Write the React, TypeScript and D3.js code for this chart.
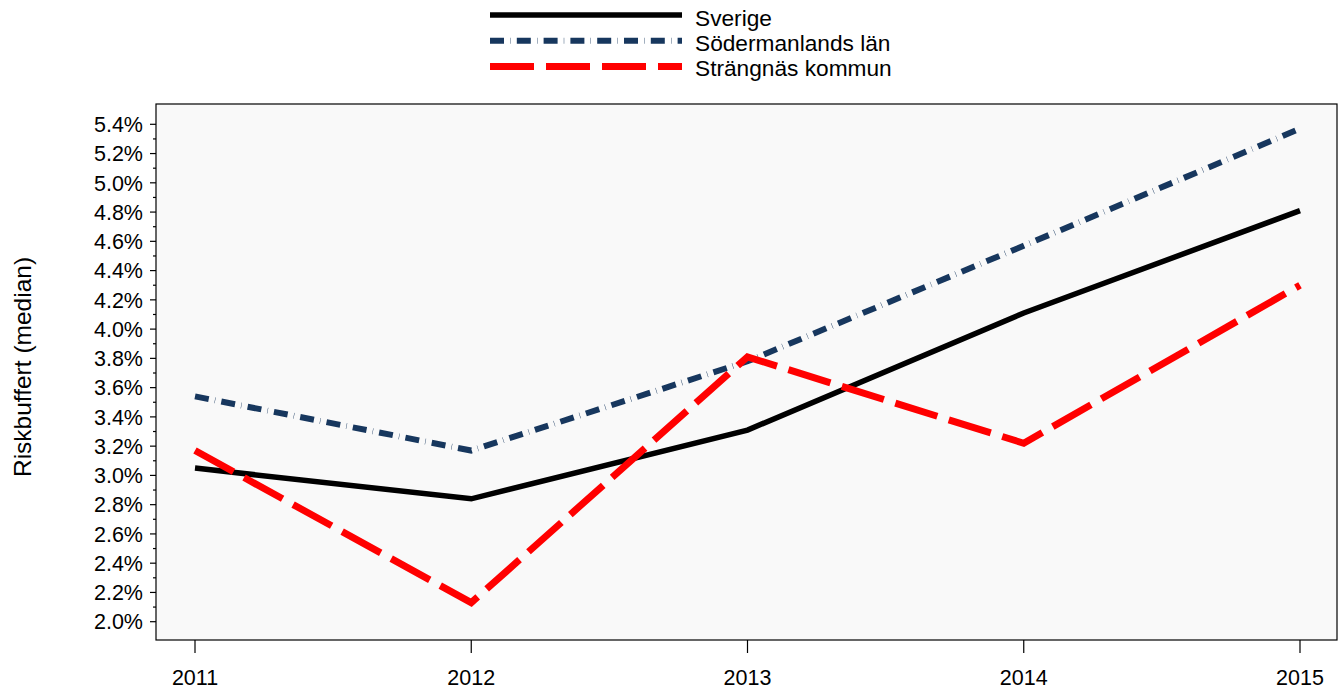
import React from "react";
import * as d3 from "d3";

const years = [2011, 2012, 2013, 2014, 2015];
const sverige = [3.05, 2.84, 3.31, 4.11, 4.81];
const sodermanland = [3.54, 3.17, 3.78, 4.57, 5.37];
const strangnas = [3.17, 2.13, 3.81, 3.22, 4.30];
const yTicks = [2.0, 2.2, 2.4, 2.6, 2.8, 3.0, 3.2, 3.4, 3.6, 3.8, 4.0, 4.2, 4.4, 4.6, 4.8, 5.0, 5.2, 5.4];
const yMinorTicks = [2.1, 2.3, 2.5, 2.7, 2.9, 3.1, 3.3, 3.5, 3.7, 3.9, 4.1, 4.3, 4.5, 4.7, 4.9, 5.1, 5.3];

const seriesList = [
  { name: "Sverige", values: sverige, color: "#000000", width: 5.5, dash: "" },
  { name: "Södermanlands län", values: sodermanland, color: "#17375e", width: 6, dash: "14 6.2 0.4 6.2" },
  { name: "Strängnäs kommun", values: strangnas, color: "#ff0000", width: 7, dash: "44 12" },
];

const W = 1340, H = 692;
const plot = { left: 156, right: 1337, top: 104, bottom: 640 };
const FONT = "'Liberation Sans', Arial, sans-serif";

export default function App() {
  const x = d3.scaleLinear().domain([2011, 2015]).range([195, 1300]);
  const y = d3.scaleLinear().domain([2.0, 5.4]).range([621.7, 124.3]);
  const line = d3.line<number>().x((_, i) => x(years[i])).y((d) => y(d));

  return (
    <svg width={W} height={H} style={{ position: "absolute", left: 0, top: 0 }} fontFamily={FONT}>
      <rect x={0} y={0} width={W} height={H} fill="#ffffff" />
      <rect x={plot.left} y={plot.top} width={plot.right - plot.left} height={plot.bottom - plot.top} fill="#f9f9f9" stroke="#000" strokeWidth={1.2} />
      {yTicks.map((t) => (
        <g key={"y" + t}>
          <line x1={plot.left - 6} x2={plot.left} y1={y(t)} y2={y(t)} stroke="#000" strokeWidth={1.2} />
          <text x={143} y={y(t) + 7.7} fontSize={21.5} textAnchor="end" fill="#000">{t.toFixed(1) + "%"}</text>
        </g>
      ))}
      {yMinorTicks.map((t) => (
        <line key={"m" + t} x1={plot.left - 3} x2={plot.left} y1={y(t)} y2={y(t)} stroke="#000" strokeWidth={1.2} />
      ))}
      {years.map((yr) => (
        <g key={"x" + yr}>
          <line x1={x(yr)} x2={x(yr)} y1={plot.bottom} y2={plot.bottom + 13} stroke="#000" strokeWidth={1.2} />
          <text x={x(yr)} y={685} fontSize={21.5} textAnchor="middle" fill="#000">{yr}</text>
        </g>
      ))}
      <text transform={`translate(31,367) rotate(-90)`} fontSize={24.5} textAnchor="middle" fill="#000">Riskbuffert (median)</text>
      {seriesList.map((s) => (
        <path key={s.name} d={line(s.values) || ""} fill="none" stroke={s.color} strokeWidth={s.width} strokeDasharray={s.dash} strokeLinejoin="miter" />
      ))}
      {seriesList.map((s, i) => (
        <g key={"lg" + s.name}>
          <line x1={490} x2={682} y1={15 + i * 25.8} y2={15 + i * 25.8} stroke={s.color} strokeWidth={s.width} strokeDasharray={s.dash} />
          <text x={695} y={26 + i * 25} fontSize={22.7} fill="#000">{s.name}</text>
        </g>
      ))}
    </svg>
  );
}
